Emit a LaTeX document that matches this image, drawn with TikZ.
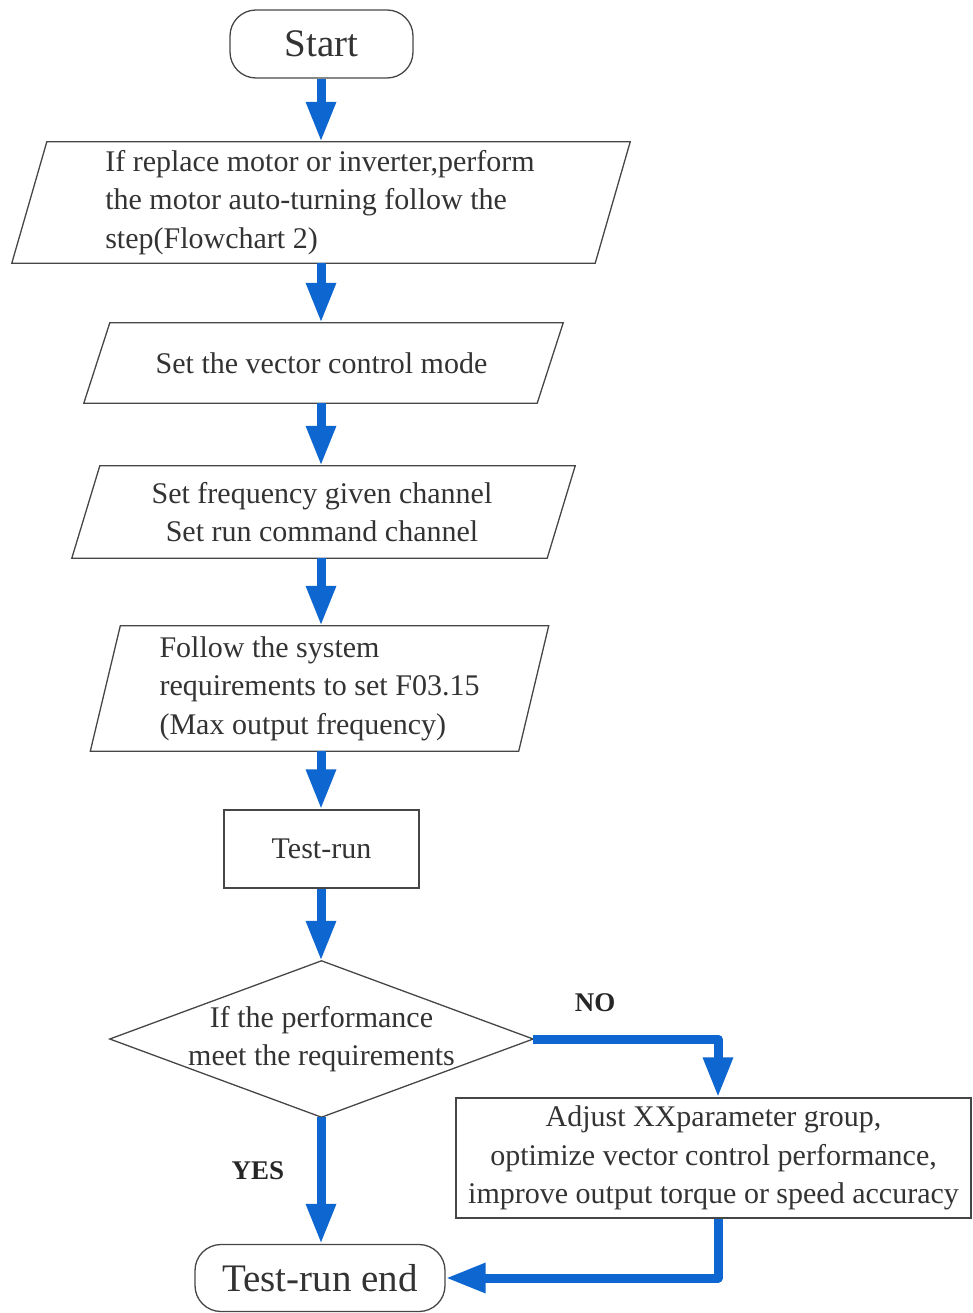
\documentclass[tikz,border=0pt]{standalone}
\usepackage{fontspec}
\setmainfont{Liberation Serif}
\usetikzlibrary{arrows.meta,calc}
\definecolor{flowblue}{RGB}{14,102,208}
\definecolor{edgegray}{RGB}{70,70,70}
\begin{document}
\begin{tikzpicture}[x=1pt,y=-1pt,
  txt/.style={font=\fontsize{30}{38.5}\selectfont, text=black!80, inner sep=0pt},
  term/.style={txt, draw=edgegray, line width=1.3pt, rounded corners=26pt, font=\fontsize{39}{44}\selectfont},
  proc/.style={txt, draw=edgegray, line width=1.3pt},
  shapebox/.style={txt, draw=none},
  outline/.style={draw=edgegray, line width=1.3pt, line join=miter},
  flow/.style={draw=flowblue, line width=9pt, line join=round, -{Triangle[width=28pt,length=40pt]}},
  lbl/.style={font=\fontsize{27}{32}\selectfont\bfseries, text=black!85, inner sep=0pt}
]
\useasboundingbox (0,0) rectangle (973,1313);

% Start
\node[term, minimum width=183pt, minimum height=68pt] (start) at (321.5,44) {Start};

% Parallelogram 1
\node[shapebox, minimum width=583pt, minimum height=121pt, align=left] (p1) at (320,202.5)
  {If replace motor or inverter,perform\\the motor auto-turning follow the\\step(Flowchart 2)};
\draw[outline] ($(p1.north west)+(18.5,0)$) -- ($(p1.north east)+(18.5,0)$)
  -- ($(p1.south east)+(-16.5,0)$) -- ($(p1.south west)+(-16.5,0)$) -- cycle;

% Parallelogram 2
\node[shapebox, minimum width=453pt, minimum height=80pt] (p2) at (321.5,363)
  {Set the vector control mode};
\draw[outline] ($(p2.north west)+(15,0)$) -- ($(p2.north east)+(15,0)$)
  -- ($(p2.south east)+(-11,0)$) -- ($(p2.south west)+(-11,0)$) -- cycle;

% Parallelogram 3
\node[shapebox, minimum width=475pt, minimum height=92pt, align=center] (p3) at (322,512)
  {Set frequency given channel\\Set run command channel};
\draw[outline] ($(p3.north west)+(15.5,0)$) -- ($(p3.north east)+(15.5,0)$)
  -- ($(p3.south east)+(-12.5,0)$) -- ($(p3.south west)+(-12.5,0)$) -- cycle;

% Parallelogram 4
\node[shapebox, minimum width=428pt, minimum height=125pt, align=left] (p4) at (319.5,688.5)
  {Follow the system\\requirements to set F03.15\\(Max output frequency)};
\draw[outline] ($(p4.north west)+(15,0)$) -- ($(p4.north east)+(15,0)$)
  -- ($(p4.south east)+(-15,0)$) -- ($(p4.south west)+(-15,0)$) -- cycle;

% Test-run box
\node[proc, minimum width=195pt, minimum height=78pt] (test) at (321.5,849) {Test-run};

% Decision
\node[shapebox, minimum width=423pt, minimum height=156pt, align=center] (dec) at (321.5,1039)
  {If the performance\\meet the requirements};
\draw[outline] (dec.north) -- (dec.east) -- (dec.south) -- (dec.west) -- cycle;

% Adjust box
\node[proc, minimum width=515pt, minimum height=120pt, align=center] (adj) at (713.5,1158)
  {Adjust XXparameter group,\\optimize vector control performance,\\improve output torque or speed accuracy};

% End
\node[term, minimum width=250pt, minimum height=67pt] (endn) at (320,1278) {Test-run end};

% Labels
\node[lbl] (no) at (595,1003) {NO};
\node[lbl] (yes) at (258,1171) {YES};

% Connectors
\coordinate (xc) at (321,0);
\draw[flow] (start.south -| xc) -- (p1.north -| xc);
\draw[flow] (p1.south -| xc) -- (p2.north -| xc);
\draw[flow] (p2.south -| xc) -- (p3.north -| xc);
\draw[flow] (p3.south -| xc) -- (p4.north -| xc);
\draw[flow] (p4.south -| xc) -- (test.north -| xc);
\draw[flow] (test.south -| xc) -- (dec.north -| xc);
\draw[flow] (dec.south -| xc) -- (endn.north -| xc);
\coordinate (bend) at (718,1039);
\draw[flow] (dec.east) -- (bend) -- (bend |- adj.north);
\draw[flow] (bend |- adj.south) -- (bend |- endn.east) -- (endn.east);
\end{tikzpicture}
\end{document}
